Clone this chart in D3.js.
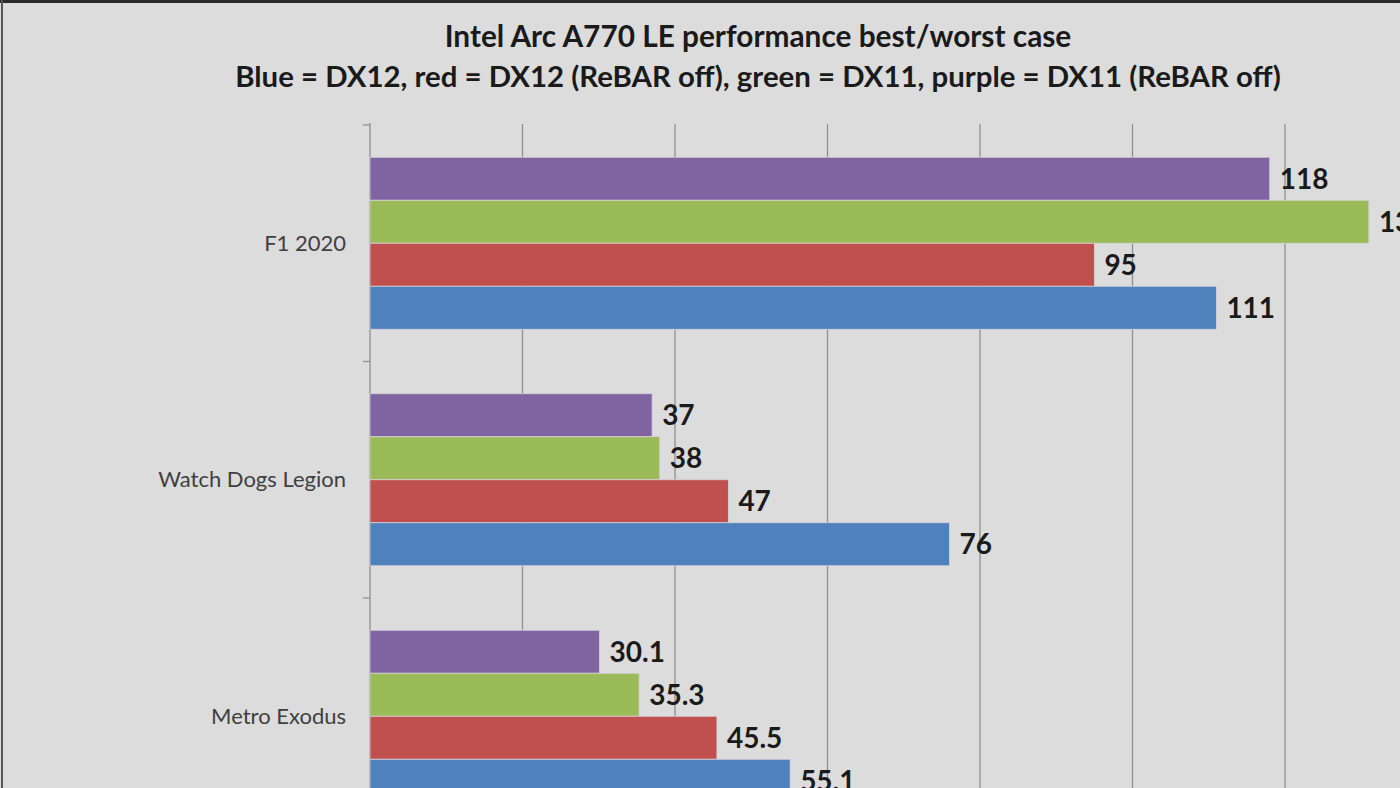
<!DOCTYPE html>
<html>
<head>
<meta charset="utf-8">
<script src="https://cdn.jsdelivr.net/npm/d3@7"></script>
<style>
  body { margin: 0; background: #dcdcdc; overflow: hidden; }
  svg { display: block; }
</style>
</head>
<body>
<div id="chart"></div>
<script>
// games, top to bottom
var games = ["F1 2020", "Watch Dogs Legion", "Metro Exodus"];
// series drawn top to bottom inside each game
var seriesNames = ["DX11 (ReBAR off)", "DX11", "DX12 (ReBAR off)", "DX12"];
var seriesColors = ["#8064a2", "#9bbb59", "#c0504d", "#4f81bd"];
// values per series, same order as games
var dx11RebarOff = [118, 37, 30.1];
var dx11 = [131, 38, 35.3];
var dx12RebarOff = [95, 47, 45.5];
var dx12 = [111, 76, 55.1];
var gridTicks = [20, 40, 60, 80, 100, 120];

var W = 1400, H = 788;
var svg = d3.select("#chart").append("svg")
  .attr("width", W).attr("height", H);

svg.append("rect").attr("width", W).attr("height", H).attr("fill", "#dcdcdc");
// frame edges of the screenshot
svg.append("rect").attr("x", 0).attr("y", 0).attr("width", W).attr("height", 3).attr("fill", "#2a2a2a");
svg.append("rect").attr("x", 1).attr("y", 0).attr("width", 2).attr("height", H).attr("fill", "#555");

// title
var title = svg.append("g").attr("font-family", "Lato, 'Open Sans', sans-serif")
  .attr("font-weight", "bold").attr("fill", "#1a1a1a").attr("text-anchor", "middle");
title.append("text").attr("x", 758).attr("y", 47).attr("font-size", 29.8)
  .text("Intel Arc A770 LE performance best/worst case");
title.append("text").attr("x", 758).attr("y", 87).attr("font-size", 29.4)
  .text("Blue = DX12, red = DX12 (ReBAR off), green = DX11, purple = DX11 (ReBAR off)");

var x = d3.scaleLinear().domain([0, 140]).range([370, 370 + 140 * 7.625]);

var y = d3.scaleBand().domain(games).range([125, 834.5])
  .paddingInner(0.2727).paddingOuter(0.13635);
var y1 = d3.scaleBand().domain(seriesNames).range([0, y.bandwidth()]);

var data = games.map(function (g, i) {
  return {
    game: g,
    values: [dx11RebarOff[i], dx11[i], dx12RebarOff[i], dx12[i]]
  };
});

// gridlines
svg.append("g").selectAll("line").data(gridTicks).join("line")
  .attr("x1", function (d) { return x(d); }).attr("x2", function (d) { return x(d); })
  .attr("y1", 124).attr("y2", H)
  .attr("stroke", "#8f8f8f").attr("stroke-width", 1.3);

// category axis
var step = y.step();
var boundaries = d3.range(games.length + 1).map(function (i) { return 125 + i * step; });
svg.append("line").attr("x1", 370).attr("x2", 370).attr("y1", 123).attr("y2", H)
  .attr("stroke", "#8f8f8f").attr("stroke-width", 1.3);
svg.append("g").selectAll("line").data(boundaries).join("line")
  .attr("x1", 363).attr("x2", 370)
  .attr("y1", function (d) { return d; }).attr("y2", function (d) { return d; })
  .attr("stroke", "#8f8f8f").attr("stroke-width", 1.3);

svg.append("g").selectAll("text").data(games).join("text")
  .attr("x", 346)
  .attr("y", function (d) { return y(d) + y.bandwidth() / 2; })
  .attr("dy", "0.35em")
  .attr("text-anchor", "end")
  .attr("font-family", "Lato, 'Open Sans', sans-serif")
  .attr("font-size", 22)
  .attr("fill", "#404040")
  .text(function (d) { return d; });

// bars
var groups = svg.append("g").selectAll("g").data(data).join("g")
  .attr("transform", function (d) { return "translate(0," + y(d.game) + ")"; });

var cells = groups.selectAll("g").data(function (d) {
  return d.values.map(function (v, i) { return { key: seriesNames[i], value: v, color: seriesColors[i] }; });
}).join("g");

cells.append("rect")
  .attr("x", x(0))
  .attr("y", function (d) { return y1(d.key); })
  .attr("width", function (d) { return x(d.value) - x(0); })
  .attr("height", y1.bandwidth())
  .attr("fill", function (d) { return d.color; })
  .attr("stroke", "#d8d2dc").attr("stroke-width", 0.8);

cells.append("text")
  .attr("x", function (d) { return x(d.value) + 10; })
  .attr("y", function (d) { return y1(d.key) + y1.bandwidth() / 2; })
  .attr("dy", "0.36em")
  .attr("font-family", "Lato, 'Open Sans', sans-serif")
  .attr("font-weight", "bold")
  .attr("font-size", 28)
  .attr("fill", "#1a1a1a")
  .text(function (d) { return d.value; });
</script>
</body>
</html>
